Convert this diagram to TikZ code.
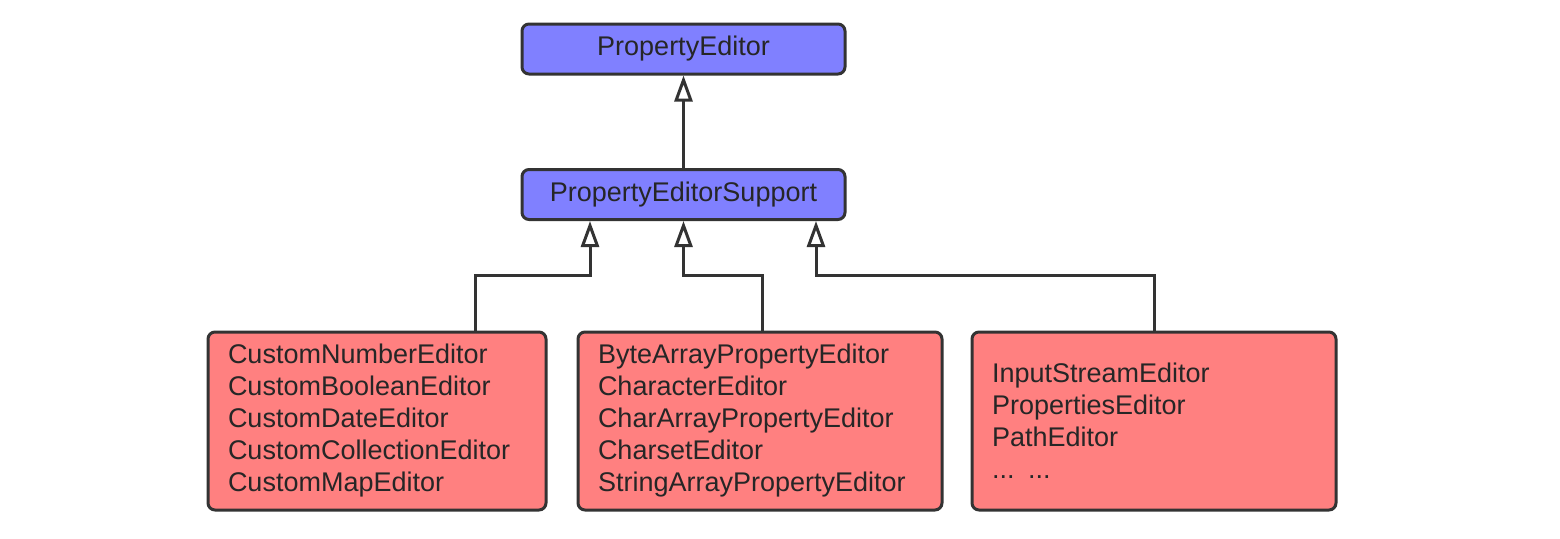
\documentclass[tikz,border=0pt]{standalone}
\usepackage{fontspec}
\setmainfont{Liberation Sans}
\usepackage{xcolor}
\usetikzlibrary{arrows.meta}
\definecolor{boxblue}{HTML}{8080FF}
\definecolor{boxred}{HTML}{FF8080}
\definecolor{edge}{HTML}{333333}
\begin{document}
\begin{tikzpicture}[x=0.5pt,y=-0.5pt,
    cls/.style={draw=edge,line width=1.5pt,rounded corners=3.5pt,font=\fontsize{13.5}{16}\selectfont,text=black!85},
    top/.style={cls,fill=boxblue,minimum width=161.5pt,minimum height=25pt},
    grp/.style={cls,fill=boxred,align=left,inner xsep=10pt,minimum height=89pt},
    inherit/.style={draw=edge,line width=1.5pt,-{Triangle[open,length=13pt,width=9pt,fill=white]}}]
  \useasboundingbox (0,0) rectangle (1560,538);
  \node[top] (pe) at (683.5,49) {PropertyEditor};
  \node[top] (sup) at (683.5,194.5) {PropertyEditorSupport};
  \node[grp,text width=149pt] (lft) at (377,421) {CustomNumberEditor\\CustomBooleanEditor\\CustomDateEditor\\CustomCollectionEditor\\CustomMapEditor};
  \node[grp,text width=162pt] (mid) at (760,421) {ByteArrayPropertyEditor\\CharacterEditor\\CharArrayPropertyEditor\\CharsetEditor\\StringArrayPropertyEditor};
  \node[grp,text width=162pt] (rgt) at (1154,421) {InputStreamEditor\\PropertiesEditor\\PathEditor\\... ...};
  \draw[inherit] (sup) -- (pe);
  \draw[inherit] ([xshift=49pt]lft.north) -- ++(0,-55) -| ([xshift=-46.75pt]sup.south);
  \draw[inherit] ([xshift=1pt]mid.north) -- ++(0,-55) -| (sup.south);
  \draw[inherit] (rgt.north) -- ++(0,-55) -| ([xshift=66.25pt]sup.south);
\end{tikzpicture}
\end{document}
